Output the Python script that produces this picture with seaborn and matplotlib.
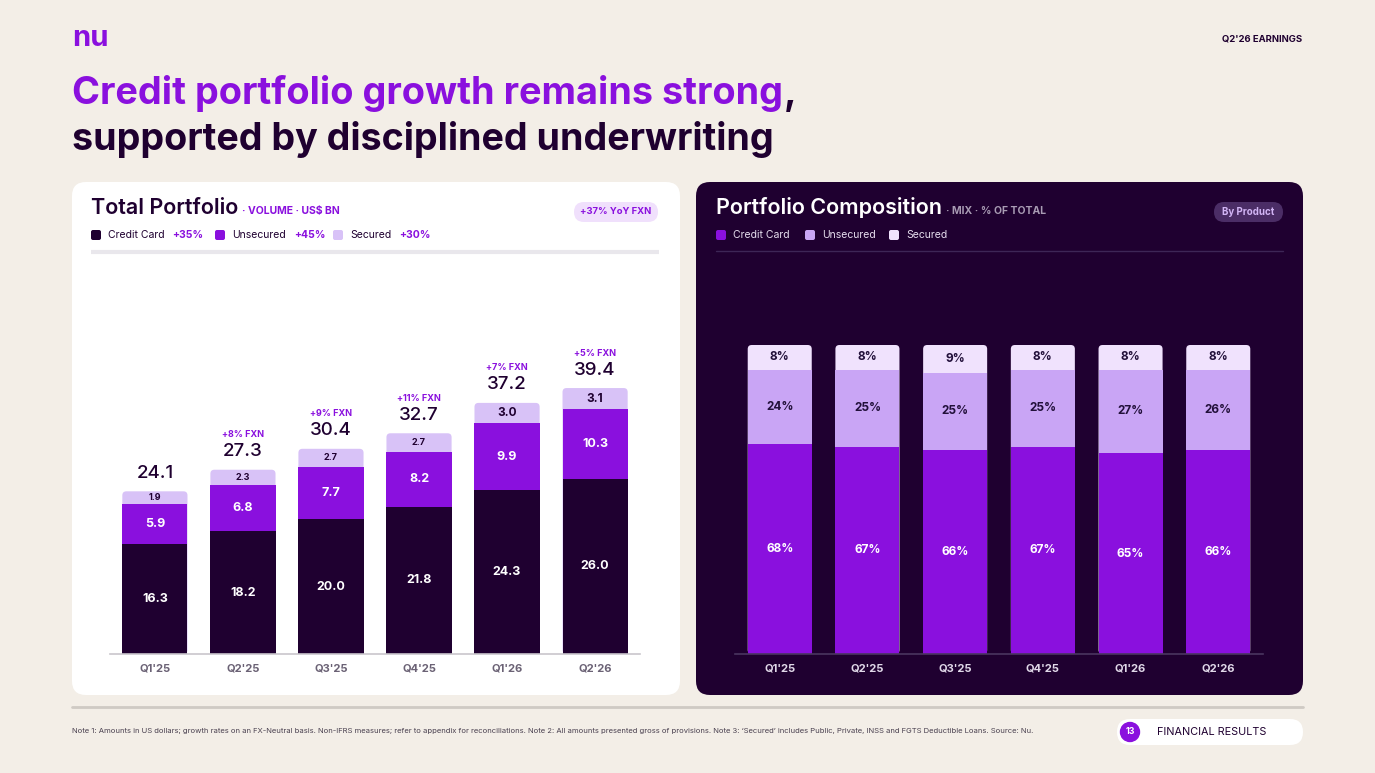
import matplotlib
matplotlib.use("Agg")
import matplotlib.pyplot as plt
from matplotlib.patches import FancyBboxPatch, Circle
import seaborn as sns
import pandas as pd

# data
quarters = ["Q1'25", "Q2'25", "Q3'25", "Q4'25", "Q1'26", "Q2'26"]
credit_card = [16.3, 18.2, 20.0, 21.8, 24.3, 26.0]
unsecured = [5.9, 6.8, 7.7, 8.2, 9.9, 10.3]
secured = [1.9, 2.3, 2.7, 2.7, 3.0, 3.1]
totals = [24.1, 27.3, 30.4, 32.7, 37.2, 39.4]
qoq_growth = ["", "+8% FXN", "+9% FXN", "+11% FXN", "+7% FXN", "+5% FXN"]
series_names = ["Credit Card", "Unsecured", "Secured"]
series_growth = ["+35%", "+45%", "+30%"]

mix_credit = [68, 67, 66, 67, 65, 66]
mix_unsecured = [24, 25, 25, 25, 27, 26]
mix_secured = [8, 8, 9, 8, 8, 8]

BG = "#F3EEE7"
DARK = "#1F0030"
PURPLE = "#8A10DE"
LAV = "#D8C2F7"
R_UNSEC = "#C9A5F5"
R_SEC = "#F0E2FD"
GRAY = "#6B6275"

sns.set_theme(style="white")
plt.rcParams['font.family'] = ['Inter', 'DejaVu Sans']

W, H = 1375, 773
fig = plt.figure(figsize=(W / 100, H / 100), dpi=100)
fig.patch.set_facecolor(BG)
bg = fig.add_axes([0, 0, 1, 1])
bg.set_xlim(0, W)
bg.set_ylim(H, 0)
bg.axis('off')
renderer = fig.canvas.get_renderer()


def box(x0, y0, x1, y1, fc, r, z=1):
    bg.add_patch(FancyBboxPatch((x0, y0), x1 - x0, y1 - y0,
                                boxstyle=f"round,pad=0,rounding_size={r}",
                                fc=fc, ec='none', zorder=z))


def txt(x, y, s, **kw):
    kw.setdefault('va', 'center')
    return bg.text(x, y, s, **kw)


def right_edge(t):
    return t.get_window_extent(renderer).x1


def px_axes(x0, y_top, x1, y_bot):
    return fig.add_axes([x0 / W, 1 - y_bot / H, (x1 - x0) / W, (y_bot - y_top) / H])


def round_tops(ax, px_x, px_y, r=4):
    # swap the back layer bars for boxes with rounded corners (bottoms get covered)
    for p in list(ax.patches):
        x, w, h = p.get_x(), p.get_width(), p.get_height()
        c = p.get_facecolor()
        p.remove()
        ax.add_patch(FancyBboxPatch((x, 0), w, h, boxstyle=f"round,pad=0,rounding_size={r / px_x}",
                                    mutation_aspect=px_x / px_y, fc=c, ec='none'))


# header
txt(72, 38, "nu", fontsize=21, fontweight='bold', color=PURPLE)
txt(1302, 39, "Q2'26 EARNINGS", fontsize=6.8, fontweight='bold', color=DARK, ha='right')

t1 = txt(72, 94, "Credit portfolio growth remains strong", fontsize=30,
         fontweight='bold', color=PURPLE)
w = t1.get_window_extent(renderer).width
t1.set_fontsize(30 * 710 / w)
txt(right_edge(t1) + 1, 94, ",", fontsize=30 * 710 / w, fontweight='bold', color=DARK)
t2 = txt(72, 139, "supported by disciplined underwriting", fontsize=30,
         fontweight='bold', color=DARK)
w = t2.get_window_extent(renderer).width
t2.set_fontsize(30 * 701 / w)

# panels
box(72, 182, 680, 695, "white", 14)
box(696, 182, 1303, 695, DARK, 14)

# left header
h1 = txt(91, 208, "Total Portfolio", fontsize=15.5, fontweight='semibold', color=DARK)
txt(right_edge(h1) + 4, 211, "· VOLUME · US$ BN", fontsize=7.5, fontweight='bold', color=PURPLE)
box(574, 202, 658, 222, "#F0E0FC", 10)
txt(616, 212, "+37% YoY FXN", fontsize=6.8, fontweight='bold', color=PURPLE, ha='center')

left_cols = [DARK, PURPLE, LAV]
sq_x = [91, 215, 333]
for sx, name, g, c in zip(sq_x, series_names, series_growth, left_cols):
    box(sx, 230, sx + 10, 240, c, 2)
    t = txt(sx + 17, 235, name, fontsize=7.5, color=DARK)
    txt(right_edge(t) + 8, 235, g, fontsize=7.5, fontweight='bold', color=PURPLE)
bg.plot([91, 659], [252, 252], color="#E9E7EC", lw=3, solid_capstyle='butt')

# right header
h2 = txt(716, 208, "Portfolio Composition", fontsize=15.5, fontweight='semibold', color="white")
txt(right_edge(h2) + 4, 211, "· MIX · % OF TOTAL", fontsize=7.5, fontweight='bold', color="#A89BB3")
box(1214, 202, 1283, 222, "#4B2D66", 10)
txt(1248.5, 212, "By Product", fontsize=7, fontweight='bold', color="#D2B5F5", ha='center')

right_cols = [PURPLE, R_UNSEC, R_SEC]
sq_x = [716, 805, 889]
for sx, name, c in zip(sq_x, series_names, right_cols):
    box(sx, 230, sx + 10, 240, c, 2)
    txt(sx + 17, 235, name, fontsize=7.5, color="#E6DEEE")
bg.plot([716, 1283], [251, 251], color="#3D2656", lw=1)

# footer
bg.plot([72, 1303], [707, 707], color="#CFCAC4", lw=2)
txt(72, 731, "Note 1: Amounts in US dollars; growth rates on an FX-Neutral basis. Non-IFRS measures; "
    "refer to appendix for reconciliations. Note 2: All amounts presented gross of provisions. "
    "Note 3: \u2018Secured\u2019 includes Public, Private, INSS and FGTS Deductible Loans. Source: Nu.",
    fontsize=5.5, color="#4A4150")
box(1117, 719, 1303, 745, "white", 13)
bg.add_patch(Circle((1130, 732), 9.5, color=PURPLE, zorder=2))
txt(1130, 732, "13", fontsize=6.3, fontweight='bold', color="white", ha='center', zorder=3)
txt(1157, 732, "FINANCIAL RESULTS", fontsize=7.8, color=DARK, zorder=3)

# left chart: stacked volumes
df = pd.DataFrame({"quarter": quarters, "credit": credit_card,
                   "unsec": unsecured, "sec": secured})
df["mid"] = df["credit"] + df["unsec"]
df["top"] = df["mid"] + df["sec"]

ax1 = px_axes(110, 270, 640, 654)
for col, c in [("top", LAV), ("mid", PURPLE), ("credit", DARK)]:
    sns.barplot(data=df, x="quarter", y=col, color=c, saturation=1, width=0.74,
                errorbar=None, linewidth=0, ax=ax1)
    if col == "top":
        round_tops(ax1, 88, 6.75)
ax1.set_ylim(0, 384 / 6.75)
ax1.set_xlim(-0.51, 5.51)

for i, row in df.iterrows():
    ax1.text(i, row["credit"] / 2, f"{row['credit']:.1f}", ha='center', va='center',
             fontsize=9, fontweight='bold', color="white")
    ax1.text(i, row["credit"] + row["unsec"] / 2, f"{row['unsec']:.1f}", ha='center',
             va='center', fontsize=9, fontweight='bold', color="white")
    ax1.text(i, row["mid"] + row["sec"] / 2, f"{row['sec']:.1f}", ha='center', va='center',
             fontsize=6.5 if row["sec"] < 3 else 8.5, fontweight='bold', color=DARK)
    ax1.text(i, totals[i] + 18 / 6.75, f"{totals[i]:.1f}", ha='center', va='center',
             fontsize=13.5, fontweight='medium', color=DARK)
    if qoq_growth[i]:
        ax1.text(i, totals[i] + 35 / 6.75, qoq_growth[i], ha='center', va='center',
                 fontsize=6.5, fontweight='bold', color=PURPLE)

# right chart: mix
dm = pd.DataFrame({"quarter": quarters, "credit": mix_credit,
                   "unsec": mix_unsecured, "sec": mix_secured})
dm["mid"] = dm["credit"] + dm["unsec"]
dm["top"] = dm["mid"] + dm["sec"]

ax2 = px_axes(735, 345, 1263, 654)
for col, c in [("top", R_SEC), ("mid", R_UNSEC), ("credit", PURPLE)]:
    sns.barplot(data=dm, x="quarter", y=col, color=c, saturation=1, width=0.73,
                errorbar=None, linewidth=0, ax=ax2)
    if col == "top":
        round_tops(ax2, 87.6, 3.09)
ax2.set_ylim(0, 100)
ax2.set_xlim(-0.51, 5.51)

for i, row in dm.iterrows():
    ax2.text(i, row["credit"] / 2, f"{row['credit']}%", ha='center', va='center',
             fontsize=8.5, fontweight='bold', color="white")
    ax2.text(i, row["credit"] + row["unsec"] / 2, f"{row['unsec']}%", ha='center',
             va='center', fontsize=8.5, fontweight='bold', color="#22103A")
    ax2.text(i, row["mid"] + row["sec"] / 2, f"{row['sec']}%", ha='center', va='center',
             fontsize=8.5, fontweight='bold', color="#22103A")

for ax, base, lab in [(ax1, "#C9C6CC", GRAY), (ax2, "#4A3560", "#E0D8E8")]:
    ax.set_facecolor('none')
    ax.set_xlabel("")
    ax.set_ylabel("")
    ax.set_yticks([])
    for s in ["top", "left", "right"]:
        ax.spines[s].set_visible(False)
    ax.spines["bottom"].set_color(base)
    ax.spines["bottom"].set_linewidth(1.2)
    ax.spines["bottom"].set_zorder(5)
    ax.tick_params(axis='x', length=0, pad=7, labelsize=8, labelcolor=lab)
    for lbl in ax.get_xticklabels():
        lbl.set_fontweight('bold')

fig.savefig("out.png", dpi=100, facecolor=BG)
